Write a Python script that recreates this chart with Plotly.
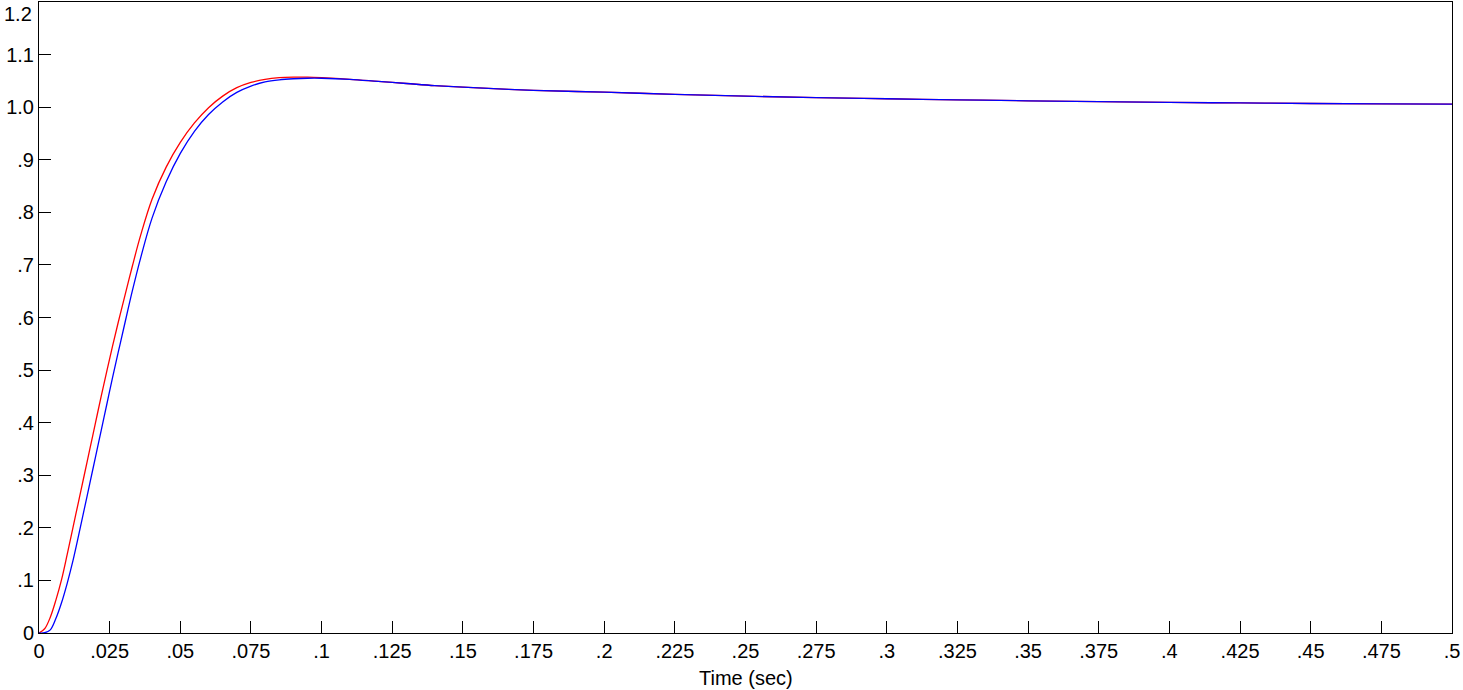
import plotly.graph_objects as go

# Time grid (s)
time_s = [0, 0.002, 0.004, 0.006, 0.008, 0.010, 0.012, 0.014, 0.016, 0.018,
          0.020, 0.022, 0.024, 0.026, 0.028, 0.030, 0.033, 0.036, 0.040, 0.045,
          0.050, 0.055, 0.060, 0.065, 0.070, 0.075, 0.080, 0.085, 0.090, 0.095,
          0.100, 0.110, 0.120, 0.130, 0.140, 0.150, 0.175, 0.200, 0.225, 0.250,
          0.275, 0.300, 0.325, 0.350, 0.375, 0.400, 0.425, 0.450, 0.475, 0.500]

# Red response
red_vals = [0, 0.008, 0.030, 0.063, 0.102, 0.150, 0.200, 0.250, 0.300, 0.350,
            0.400, 0.450, 0.498, 0.545, 0.590, 0.633, 0.697, 0.757, 0.825, 0.886,
            0.933, 0.970, 0.999, 1.021, 1.037, 1.047, 1.053, 1.056, 1.057, 1.057,
            1.056, 1.053, 1.049, 1.045, 1.041, 1.038, 1.032, 1.0285, 1.0245, 1.021,
            1.018, 1.016, 1.014, 1.012, 1.0105, 1.009, 1.008, 1.007, 1.0063, 1.0057]

# Blue response
blue_vals = [0, 0.0005, 0.006, 0.028, 0.058, 0.095, 0.137, 0.185, 0.235, 0.285,
             0.335, 0.385, 0.435, 0.485, 0.533, 0.580, 0.650, 0.714, 0.789, 0.858,
             0.912, 0.954, 0.986, 1.010, 1.028, 1.040, 1.048, 1.052, 1.054, 1.055,
             1.055, 1.053, 1.049, 1.045, 1.041, 1.038, 1.032, 1.0285, 1.0245, 1.021,
             1.018, 1.016, 1.014, 1.012, 1.0105, 1.009, 1.008, 1.007, 1.0063, 1.0057]

x_tickvals = [0, 0.025, 0.05, 0.075, 0.1, 0.125, 0.15, 0.175, 0.2, 0.225, 0.25,
              0.275, 0.3, 0.325, 0.35, 0.375, 0.4, 0.425, 0.45, 0.475, 0.5]
x_ticktext = ["0", ".025", ".05", ".075", ".1", ".125", ".15", ".175", ".2", ".225", ".25",
              ".275", ".3", ".325", ".35", ".375", ".4", ".425", ".45", ".475", ".5"]
y_tickvals = [0, 0.1, 0.2, 0.3, 0.4, 0.5, 0.6, 0.7, 0.8, 0.9, 1.0, 1.1]
y_ticktext = ["0", ".1", ".2", ".3", ".4", ".5", ".6", ".7", ".8", ".9", "1.0", "1.1"]
top_label = "1.2"
x_title = "Time (sec)"

FONT = "Liberation Sans, Arial, sans-serif"

fig = go.Figure()
fig.add_trace(go.Scatter(x=time_s, y=red_vals, mode="lines",
                         line=dict(color="#ff0000", width=1.3, shape="spline", smoothing=1.0),
                         showlegend=False, hoverinfo="skip"))
fig.add_trace(go.Scatter(x=time_s, y=blue_vals, mode="lines",
                         line=dict(color="#0000ff", width=1.3, shape="spline", smoothing=1.0),
                         showlegend=False, hoverinfo="skip"))

fig.update_layout(
    width=1463, height=690,
    margin=dict(l=39, r=11, t=2, b=57, pad=0),
    paper_bgcolor="white", plot_bgcolor="white",
    font=dict(family=FONT, size=20, color="black"),
    showlegend=False,
    xaxis=dict(range=[0, 0.5], tickvals=x_tickvals, ticktext=x_ticktext,
               ticks="inside", ticklen=12, tickwidth=1, tickcolor="black",
               showline=True, linecolor="black", linewidth=1, mirror=True,
               showgrid=False, zeroline=False, fixedrange=True,
               tickfont=dict(family=FONT, size=20, color="black")),
    yaxis=dict(range=[0, 1.2], tickvals=y_tickvals, ticktext=y_ticktext,
               ticks="inside", ticklen=12, tickwidth=1, tickcolor="black",
               showline=True, linecolor="black", linewidth=1, mirror=True,
               showgrid=False, zeroline=False, fixedrange=True,
               tickfont=dict(family=FONT, size=20, color="black")),
    annotations=[
        dict(text=top_label, xref="paper", yref="paper", x=0, y=1,
             xanchor="right", yanchor="top", xshift=-5, yshift=1, showarrow=False,
             font=dict(family=FONT, size=20, color="black")),
        dict(text=x_title, xref="paper", yref="paper", x=0.5, y=-0.0713,
             xanchor="center", yanchor="middle", showarrow=False,
             font=dict(family=FONT, size=20, color="black")),
    ],
)

fig.write_html("out.html", config={"displayModeBar": False},
               post_script="document.body.style.margin='0';")
